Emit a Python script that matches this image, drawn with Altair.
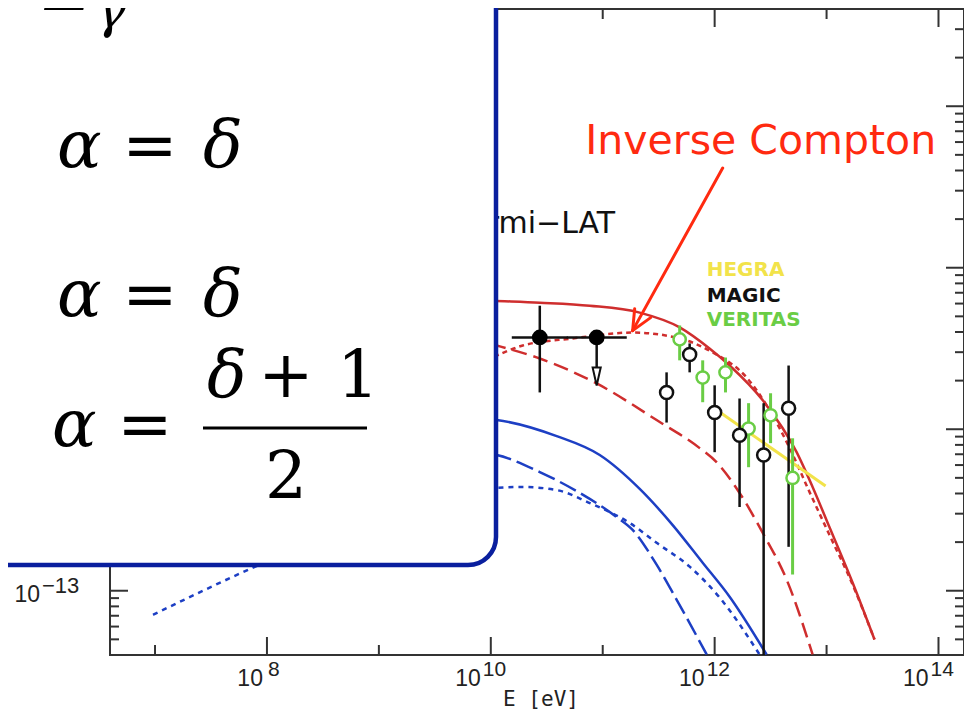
import altair as alt
import pandas as pd

# ---------------- data (E in eV, flux E^2 dN/dE) ----------------
red_solid_E = [6.5e9, 1.04e10, 2.74e10, 7.66e10, 2.14e11, 4.87e11, 9.0e11, 1.36e12, 2.69e12, 5.4e12, 7.5e12, 1.06e13, 1.71e13, 2.68e13]
red_solid_F = [6.34e-12, 6.25e-12, 6.08e-12, 5.82e-12, 5.27e-12, 4.27e-12, 3.16e-12, 2.48e-12, 1.51e-12, 7.21e-13, 4.39e-13, 2.48e-13, 1.12e-13, 4.99e-14]

red_dotted_E = [6.5e9, 1.13e10, 1.93e10, 5.4e10, 1.85e11, 4.87e11, 9.6e11, 1.93e12, 3.1e12, 4.68e12, 7.05e12, 1.06e13, 1.71e13, 2.68e13]
red_dotted_F = [2.38e-12, 2.86e-12, 3.30e-12, 3.65e-12, 3.97e-12, 3.65e-12, 2.99e-12, 2.09e-12, 1.31e-12, 7.64e-13, 4.08e-13, 2.22e-13, 1.09e-13, 4.99e-14]

red_dashed_E = [6.5e9, 1.13e10, 2.74e10, 8.83e10, 3.03e11, 7.35e11, 1.04e12, 1.67e12, 2.69e12, 4.4e12, 7.5e12]
red_dashed_F = [3.65e-12, 3.30e-12, 2.74e-12, 1.92e-12, 1.14e-12, 7.64e-13, 6.25e-13, 4.03e-13, 2.28e-13, 1.17e-13, 4.03e-14]

blue_solid_E = [6.5e9, 1.13e10, 3.88e10, 9.4e10, 2.14e11, 4.22e11, 7.82e11, 1.36e12, 2.91e12]
blue_solid_F = [1.17e-12, 1.14e-12, 9.06e-13, 6.92e-13, 4.27e-13, 2.55e-13, 1.49e-13, 9.18e-14, 4.03e-14]

blue_dashed_E = [6.5e9, 1.13e10, 2.74e10, 6.24e10, 1.33e11, 1.85e11, 3.03e11, 4.58e11, 8.49e11]
blue_dashed_F = [7.21e-13, 6.92e-13, 5.43e-13, 4.03e-13, 2.86e-13, 2.38e-13, 1.45e-13, 8.79e-14, 4.03e-14]

blue_dotted_E = [9.6e6, 7.5e7, 3.65e8, 1.54e9, 5.28e9, 1.13e10, 1.93e10, 3.88e10, 7.66e10, 1.74e11, 3.03e11, 5.98e11, 1.11e12, 2.52e12]
blue_dotted_F = [7.1e-14, 1.39e-13, 2.22e-13, 3.25e-13, 4.08e-13, 4.33e-13, 4.39e-13, 4.2e-13, 3.49e-13, 2.63e-13, 1.98e-13, 1.41e-13, 9.06e-14, 4.03e-14]

# Fermi-LAT
fermi_E = [2.74e10, 8.83e10]
fermi_F = [3.70e-12, 3.70e-12]
fermi_E_lo = [1.54e10, 4.77e10]
fermi_E_hi = [4.87e10, 1.64e11]
fermi_err_E = [2.74e10]
fermi_err_F_lo = [1.69e-12]
fermi_err_F_hi = [5.82e-12]
fermi_ul_E = [8.83e10]
fermi_ul_F = [3.70e-12]
fermi_ul_F_end = [2.12e-12]

# MAGIC
magic_E = [3.72e11, 5.98e11, 1.0e12, 1.67e12, 2.74e12, 4.58e12]
magic_F = [1.69e-12, 2.90e-12, 1.27e-12, 9.18e-13, 6.92e-13, 1.35e-12]
magic_F_lo = [1.10e-12, 2.25e-12, 7.21e-13, 3.30e-13, 4.0e-14, 1.87e-13]
magic_F_hi = [2.25e-12, 3.40e-12, 1.87e-12, 1.55e-12, 1.45e-12, 2.48e-12]

# VERITAS
veritas_E = [4.87e11, 7.82e11, 1.25e12, 2.01e12, 3.16e12, 4.97e12]
veritas_F = [3.60e-12, 2.09e-12, 2.25e-12, 1.01e-12, 1.22e-12, 4.99e-13]
veritas_F_lo = [2.67e-12, 1.47e-12, 1.69e-12, 5.82e-13, 8.2e-13, 1.26e-13]
veritas_F_hi = [4.39e-12, 2.67e-12, 2.78e-12, 1.45e-12, 1.67e-12, 8.79e-13]

# HEGRA power law
hegra_E = [9.6e11, 9.8e12]
hegra_F = [1.37e-12, 4.45e-13]

# ticks and labels
x_major_ticks = [1e8, 1e10, 1e12, 1e14]
x_minor_ticks = [1e7, 1e9, 1e11, 1e13]
y_major_ticks = [1e-13, 1e-12, 1e-11, 1e-10]
y_minor_mult = [2, 3, 4, 5, 6, 7, 8, 9]
y_minor_ticks = [m * 10.0 ** e for e in (-14, -13, -12, -11, -10) for m in y_minor_mult
                 if 4.01e-14 < m * 10.0 ** e < 3.99e-10]
x_lab1_E = [1e8]
x_lab1_exp = ["8"]
x_lab2_E = [1e10, 1e12, 1e14]
x_lab2_exp = ["10", "12", "14"]
y_lab_F = [1e-13]              # the other decade labels sit under the overlay box
y_lab_exp = ["\u221213"]

# ---------------- chart ----------------
W, H = 854, 646
xscale = alt.Scale(type="log", domain=[3.96e6, 1.69e14], nice=False)
yscale = alt.Scale(type="log", domain=[4e-14, 4e-10], nice=False)
FRAME = "#333333"
RED = "#cf2e2e"
BLUE = "#1d3fc4"
GREEN = "#6acd45"
YELLOW = "#f2e34a"
LABFONT = "Liberation Sans"


def X(f="E"):
    return alt.X(f"{f}:Q", scale=xscale, axis=None)


def Y(f="F"):
    return alt.Y(f"{f}:Q", scale=yscale, axis=None)


def curve(E, F, color, dash=None, width=2.5):
    kw = dict(color=color, strokeWidth=width, interpolate="monotone")
    if dash:
        kw["strokeDash"] = dash
    return alt.Chart(pd.DataFrame({"E": E, "F": F})).mark_line(**kw).encode(x=X(), y=Y())


def vtext(label, x, y, **kw):
    return (alt.Chart(pd.DataFrame({"t": [label]})).mark_text(**kw)
            .encode(text="t:N", x=alt.value(x), y=alt.value(y)))


layers = []
# model curves
layers += [
    curve(blue_dotted_E, blue_dotted_F, BLUE, [5, 5]),
    curve(blue_dashed_E, blue_dashed_F, BLUE, [18, 6]),
    curve(blue_solid_E, blue_solid_F, BLUE),
    curve(red_dashed_E, red_dashed_F, RED, [15, 7]),
    curve(red_dotted_E, red_dotted_F, RED, [5, 4]),
    curve(red_solid_E, red_solid_F, RED),
    curve(hegra_E, hegra_F, YELLOW, None, 3),
]

# error bars
magic_df = pd.DataFrame({"E": magic_E, "F": magic_F, "lo": magic_F_lo, "hi": magic_F_hi})
ver_df = pd.DataFrame({"E": veritas_E, "F": veritas_F, "lo": veritas_F_lo, "hi": veritas_F_hi})
layers.append(alt.Chart(ver_df).mark_rule(color=GREEN, strokeWidth=3).encode(
    x=X(), y=Y("lo"), y2="hi:Q"))
layers.append(alt.Chart(magic_df).mark_rule(color="#111111", strokeWidth=2.5).encode(
    x=X(), y=Y("lo"), y2="hi:Q"))

# Fermi-LAT
fermi_df = pd.DataFrame({"E": fermi_E, "F": fermi_F, "lo": fermi_E_lo, "hi": fermi_E_hi})
layers.append(alt.Chart(fermi_df).mark_rule(color="#111111", strokeWidth=2.5).encode(
    x=X("lo"), x2="hi:Q", y=Y()))
layers.append(alt.Chart(pd.DataFrame({"E": fermi_err_E, "lo": fermi_err_F_lo, "hi": fermi_err_F_hi}))
              .mark_rule(color="#111111", strokeWidth=2.5).encode(x=X(), y=Y("lo"), y2="hi:Q"))
ul_df = pd.DataFrame({"E": fermi_ul_E, "F": fermi_ul_F, "end": fermi_ul_F_end})
layers.append(alt.Chart(ul_df).mark_rule(color="#111111", strokeWidth=2.5).encode(
    x=X(), y=Y(), y2="end:Q"))
layers.append(alt.Chart(ul_df).mark_point(
    shape="M-0.45,-1L0.45,-1L0,1Z", size=324, fill="white", fillOpacity=1,
    stroke="#111111", strokeWidth=2, opacity=1).encode(x=X(), y=Y("end")))
layers.append(alt.Chart(fermi_df).mark_point(
    shape="circle", size=250, filled=True, color="#000000", opacity=1).encode(x=X(), y=Y()))

# markers
layers.append(alt.Chart(ver_df).mark_point(
    shape="circle", size=150, fill="white", fillOpacity=1, stroke=GREEN,
    strokeWidth=2.5, opacity=1).encode(x=X(), y=Y()))
layers.append(alt.Chart(magic_df).mark_point(
    shape="circle", size=170, fill="white", fillOpacity=1, stroke="#111111",
    strokeWidth=2.5, opacity=1).encode(x=X(), y=Y()))


# inward ticks
def xticks(vals, length, top):
    if top:
        yy = dict(y=alt.value(0), y2=alt.value(length))
    else:
        yy = dict(y=alt.value(H), y2=alt.value(H - length))
    return alt.Chart(pd.DataFrame({"E": vals})).mark_rule(color=FRAME, strokeWidth=2).encode(x=X(), **yy)


def yticks(vals, length, right):
    if right:
        xx = dict(x=alt.value(W), x2=alt.value(W - length))
    else:
        xx = dict(x=alt.value(0), x2=alt.value(length))
    return alt.Chart(pd.DataFrame({"F": vals})).mark_rule(color=FRAME, strokeWidth=2).encode(y=Y(), **xx)


layers += [
    xticks(x_major_ticks, 18, False), xticks(x_minor_ticks, 10, False),
    xticks(x_major_ticks, 18, True), xticks(x_minor_ticks, 10, True),
    yticks(y_major_ticks, 18, False), yticks(y_minor_ticks, 9, False),
    yticks(y_major_ticks, 18, True), yticks(y_minor_ticks, 9, True),
]

# y tick label
ylab_df = pd.DataFrame({"F": y_lab_F, "exp": y_lab_exp})
layers.append(alt.Chart(ylab_df).mark_text(
    text="10", align="right", baseline="alphabetic", dy=11, font=LABFONT,
    fontSize=23, color="#222222").encode(y=Y(), x=alt.value(-70)))
layers.append(alt.Chart(ylab_df).mark_text(
    align="left", baseline="alphabetic", dy=2, font=LABFONT,
    fontSize=22, color="#222222").encode(y=Y(), x=alt.value(-68), text="exp:N"))

# in-plot annotations
layers.append(alt.Chart(pd.DataFrame({"E": [1.29e11], "F": [1.64e-11], "t": ["Fermi\u2212LAT"]}))
              .mark_text(align="right", baseline="alphabetic", font="DejaVu Sans", fontSize=30,
                         color="#111111").encode(x=X(), y=Y(), text="t:N"))
for lab, fval, col in [("HEGRA", 8.93e-12, YELLOW), ("MAGIC", 6.17e-12, "#111111"), ("VERITAS", 4.33e-12, GREEN)]:
    layers.append(alt.Chart(pd.DataFrame({"E": [8.49e11], "F": [fval], "t": [lab]}))
                  .mark_text(align="left", baseline="alphabetic", font="DejaVu Sans", fontWeight="bold",
                             fontSize=20, color=col).encode(x=X(), y=Y(), text="t:N"))
layers.append(alt.Chart(pd.DataFrame({"E": [2.58e12], "F": [5.06e-11], "t": ["Inverse Compton"]}))
              .mark_text(align="center", baseline="alphabetic", font="DejaVu Sans", fontSize=41,
                         color="#ff2a10").encode(x=X(), y=Y(), text="t:N"))
arrow_df = pd.DataFrame({"E": [1.18e12, 1.85e11, 1.85e11], "F": [4.14e-11, 4.08e-12, 4.08e-12],
                         "E2": [1.85e11, 2.68e11, 1.93e11], "F2": [4.08e-12, 4.91e-12, 5.58e-12]})
layers.append(alt.Chart(arrow_df).mark_rule(color="#ff2a10", strokeWidth=3, strokeCap="round").encode(
    x=X(), y=Y(), x2="E2:Q", y2="F2:Q"))

# overlay box
layers.append(alt.Chart(pd.DataFrame({"t": [0]})).mark_rect(
    fill="white", stroke="#0a1f9e", strokeWidth=4.5, cornerRadius=28).encode(
    x=alt.value(-130), x2=alt.value(386), y=alt.value(-40), y2=alt.value(556)))

# equations
SERIF = "DejaVu Serif"
ital = dict(font=SERIF, fontStyle="italic", fontSize=66, color="#000000", baseline="alphabetic")
rom = dict(font=SERIF, fontSize=66, color="#000000", baseline="alphabetic")
layers += [
    vtext("E", -65, 1, align="left", **ital),
    vtext("\u03b3", -14, 18, align="left", font=SERIF, fontStyle="italic", fontSize=50,
          color="#000000", baseline="alphabetic"),
    vtext("\u03b1", -53, 158, align="left", **ital),
    vtext("=", 40, 158, align="center", **rom),
    vtext("\u03b4", 93, 158, align="left", **ital),
    vtext("\u03b1", -53, 307, align="left", **ital),
    vtext("=", 40, 307, align="center", **rom),
    vtext("\u03b4", 93, 307, align="left", **ital),
    vtext("\u03b1", -58, 437, align="left", **ital),
    vtext("=", 35, 437, align="center", **rom),
    vtext("\u03b4", 97, 388, align="left", **ital),
    vtext("+", 176, 388, align="center", **rom),
    vtext("1", 227, 388, align="left", **rom),
    vtext("2", 176, 489, align="center", **rom),
]
layers.append(alt.Chart(pd.DataFrame({"t": [0]})).mark_rule(color="#000000", strokeWidth=3).encode(
    x=alt.value(93), x2=alt.value(257), y=alt.value(419)))

# x tick labels and title
for Es, exps, d10, dexp in [(x_lab1_E, x_lab1_exp, -4, 1), (x_lab2_E, x_lab2_exp, -10, -8)]:
    df = pd.DataFrame({"E": Es, "exp": exps})
    layers.append(alt.Chart(df).mark_text(
        text="10", align="right", baseline="alphabetic", dx=d10, font=LABFONT,
        fontSize=23, color="#222222").encode(x=X(), y=alt.value(677)))
    layers.append(alt.Chart(df).mark_text(
        align="left", baseline="alphabetic", dx=dexp, font=LABFONT,
        fontSize=21, color="#222222").encode(x=X(), y=alt.value(667), text="exp:N"))
layers.append(vtext("E [eV]", 431, 697, align="center", baseline="alphabetic",
                    font="DejaVu Sans Mono", fontSize=21, color="#222222"))

chart = (alt.layer(*layers)
         .properties(width=W, height=H, autosize="none",
                     padding={"left": 102, "top": 1, "right": 0, "bottom": 57})
         .configure(background="white")
         .configure_view(stroke=FRAME, strokeWidth=2))

chart.save("out.html", embed_options={"renderer": "svg", "actions": False})
